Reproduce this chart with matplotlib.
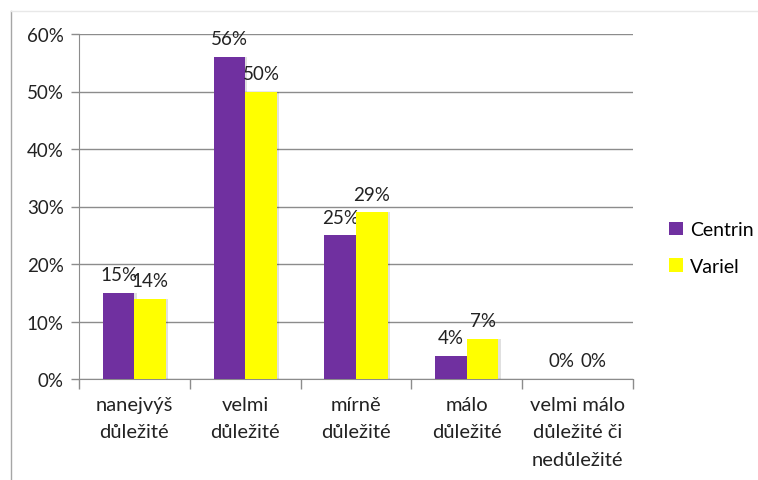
import matplotlib.pyplot as plt
import numpy as np
from matplotlib.lines import Line2D
from matplotlib.patches import Patch

plt.rcParams['font.family'] = ['Lato', 'DejaVu Sans']

categories = ['nanejvýš\ndůležité', 'velmi\ndůležité', 'mírně\ndůležité',
              'málo\ndůležité', 'velmi málo\ndůležité či\nnedůležité']
centrin = [15, 56, 25, 4, 0]
variel = [14, 50, 29, 7, 0]
series_names = ['Centrin', 'Variel']
colors = ['#7030A0', '#FFFF00']
yticks = [0, 10, 20, 30, 40, 50, 60]

fig = plt.figure(figsize=(7.58, 4.81), dpi=100)
ax = fig.add_axes([79 / 758, 1 - 380 / 481, 554 / 758, 345 / 481])

x = np.arange(len(categories))
w = 0.285
grid_c = '#8C8C8C'
txt_c = '#222222'

for i, (vals, c) in enumerate(zip([centrin, variel], colors)):
    pos = x + (i - 0.5) * w
    # soft drop shadow behind the bars
    ax.bar(pos + 0.02, vals, w, color='#000000', alpha=0.12, zorder=2)
    ax.bar(pos, vals, w, color=c, zorder=3)
    for p, v in zip(pos, vals):
        ax.annotate(f'{v}%', (p, v), xytext=(0, 7), textcoords='offset points',
                    ha='center', va='bottom', fontsize=13.5, color=txt_c)

ax.set_xlim(-0.5, len(categories) - 0.5)
ax.set_ylim(0, 60)
ax.set_yticks(yticks)
ax.set_yticklabels([f'{t}%' for t in yticks], fontsize=13.5, color=txt_c)
ax.yaxis.grid(True, color=grid_c, linewidth=1)
ax.set_axisbelow(True)

ax.set_xticks(x)
ax.set_xticklabels(categories, fontsize=14.5, color=txt_c, linespacing=1.75)
ax.tick_params(axis='x', length=0, pad=12)
ax.set_xticks(np.arange(len(categories) + 1) - 0.5, minor=True)
ax.tick_params(axis='x', which='minor', length=7, color=grid_c, width=1)
ax.tick_params(axis='y', length=6, color=grid_c, width=1, pad=5)

for s in ['top', 'right']:
    ax.spines[s].set_visible(False)
ax.spines['left'].set_color(grid_c)
ax.spines['bottom'].set_color(grid_c)

handles = [Patch(facecolor=c, edgecolor='none') for c in colors]
fig.legend(handles, series_names, loc='center left', bbox_to_anchor=(0.86, 0.482),
           frameon=False, fontsize=14, handlelength=0.7, handleheight=0.7,
           handletextpad=0.35, labelspacing=1.0)

# outer chart frame
fig.add_artist(Line2D([11 / 758, 11 / 758], [0, 1 - 12 / 481], color='#A6A6A6', lw=1))
fig.add_artist(Line2D([11 / 758, 1], [1 - 12 / 481, 1 - 12 / 481], color='#E8E8E8', lw=1))

fig.savefig('out.png', dpi=100)
